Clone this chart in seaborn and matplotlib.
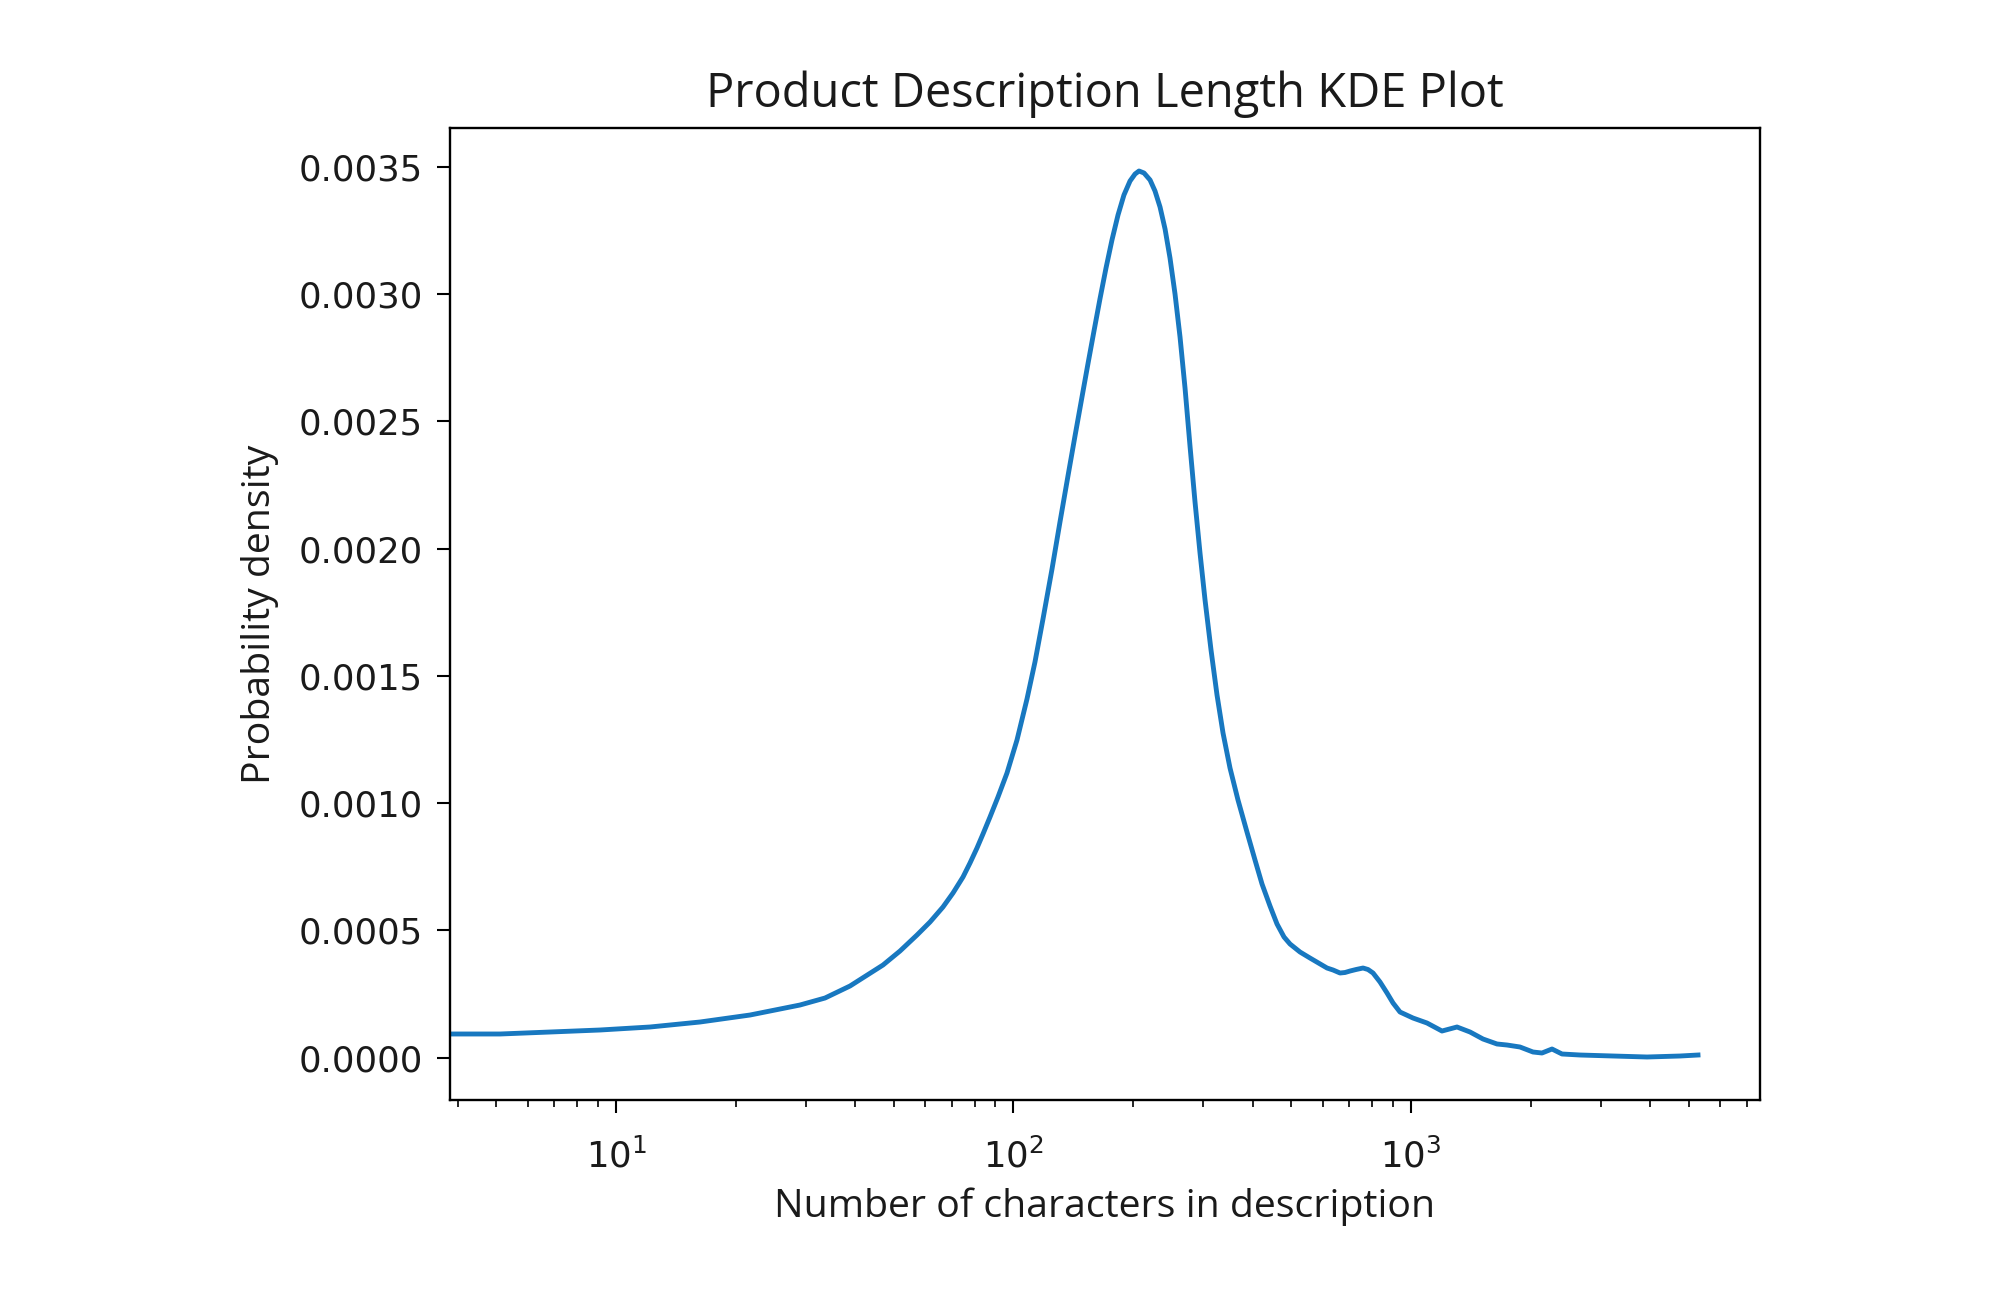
import matplotlib
matplotlib.use("Agg")
import matplotlib.pyplot as plt
import seaborn as sns
import pandas as pd

# Data (x: characters, y: density)
desc_length = [
    3.823, 5.108, 6.823, 9.115, 12.18, 16.27, 21.74, 29.03, 33.56, 38.79,
    46.96, 51.82, 57.18, 61.66, 66.47, 70.44, 74.64, 77.73, 80.94, 83.80,
    87.28, 91.41, 96.31, 102.05, 108.13, 113.25, 118.63, 125.0, 130.9, 137.1,
    142.8, 148.7, 153.9, 159.4, 165.0, 170.9, 176.9, 183.2, 189.6, 196.4,
    202.2, 206.9, 213.0, 220.6, 227.0, 233.7, 240.6, 247.6, 254.9, 262.4,
    270.1, 278.0, 286.2, 294.6, 303.3, 314.0, 325.1, 336.6, 350.5, 367.1,
    386.7, 405.1, 421.9, 441.9, 460.2, 479.3, 496.2, 525.8, 557.0, 614.9,
    636.6, 663.0, 682.5, 702.5, 727.4, 757.5, 779.7, 802.6, 835.8, 870.4,
    901.2, 938.3, 1011.6, 1097.1, 1196.6, 1305.4, 1407.9, 1517.5, 1646.0, 1744.2,
    1880.0, 2027.4, 2135.9, 2263.3, 2398.2, 2662.0, 3223.5, 3924.7, 4751.0, 5273.0,
]
density = [
    0.0000924, 0.0000924, 0.0001002, 0.0001081, 0.0001199, 0.0001395, 0.0001670, 0.0002063, 0.0002338, 0.0002810,
    0.0003635, 0.0004185, 0.0004814, 0.0005325, 0.0005915, 0.0006465, 0.0007094, 0.0007644, 0.0008233, 0.0008784,
    0.0009452, 0.0010238, 0.0011181, 0.0012478, 0.0014089, 0.0015543, 0.0017233, 0.0019198, 0.0021045, 0.0022853,
    0.0024425, 0.0025958, 0.0027255, 0.0028551, 0.0029809, 0.0031027, 0.0032128, 0.0033110, 0.0033896, 0.0034446,
    0.0034722, 0.0034840, 0.0034761, 0.0034486, 0.0034053, 0.0033425, 0.0032560, 0.0031420, 0.0030006, 0.0028316,
    0.0026311, 0.0024032, 0.0021831, 0.0019827, 0.0017980, 0.0016015, 0.0014246, 0.0012753, 0.0011377, 0.0010120,
    0.0008862, 0.0007762, 0.0006819, 0.0005954, 0.0005247, 0.0004735, 0.0004461, 0.0004146, 0.0003910, 0.0003517,
    0.0003439, 0.0003321, 0.0003341, 0.0003399, 0.0003458, 0.0003517, 0.0003458, 0.0003321, 0.0002967, 0.0002535,
    0.0002142, 0.0001788, 0.0001552, 0.0001356, 0.0001041, 0.0001199, 0.0001002, 0.0000727, 0.0000531, 0.0000491,
    0.0000413, 0.0000216, 0.0000177, 0.0000334, 0.0000138, 0.0000098, 0.0000059, 0.0000020, 0.0000059, 0.0000098,
]

y_tick_values = [0.0, 0.0005, 0.0010, 0.0015, 0.0020, 0.0025, 0.0030, 0.0035]

title_text = "Product Description Length KDE Plot"
x_label = "Number of characters in description"
y_label = "Probability density"

df = pd.DataFrame({"length": desc_length, "density": density})

fig = plt.figure(figsize=(20, 12.95), dpi=100)
ax = fig.add_axes([450 / 2000, 1 - 1100 / 1295, 1310 / 2000, 972 / 1295])

sns.lineplot(data=df, x="length", y="density", ax=ax, color="#1878c0",
             linewidth=3.5, sort=False)
ax.set_xscale("log")
ax.set_xlim(3.823, 7551)
ax.set_ylim(-0.000167, 0.003653)
ax.set_yticks(y_tick_values)
ax.set_yticklabels([f"{v:.4f}" for v in y_tick_values])

for s in ax.spines.values():
    s.set_linewidth(1.7)
    s.set_color("black")

ax.tick_params(axis="both", which="major", length=9.4, width=1.5, labelsize=25.5)
ax.tick_params(axis="y", which="major", pad=10)
ax.tick_params(axis="x", which="major", pad=18)
ax.tick_params(axis="x", which="minor", length=5.2, width=1.2)
for lab in ax.get_xticklabels() + ax.get_yticklabels():
    lab.set_family("DejaVu Sans")
    lab.set_color("#1a1a1a")

ax.set_title(title_text, fontsize=33.8, family="Open Sans", color="#1a1a1a", pad=15)
ax.set_xlabel(x_label, fontsize=28.3, family="Open Sans", color="#1a1a1a", labelpad=9.7)
ax.set_ylabel(y_label, fontsize=28.3, family="Open Sans", color="#1a1a1a", labelpad=14)

fig.savefig("out.png", dpi=100, facecolor="white")
